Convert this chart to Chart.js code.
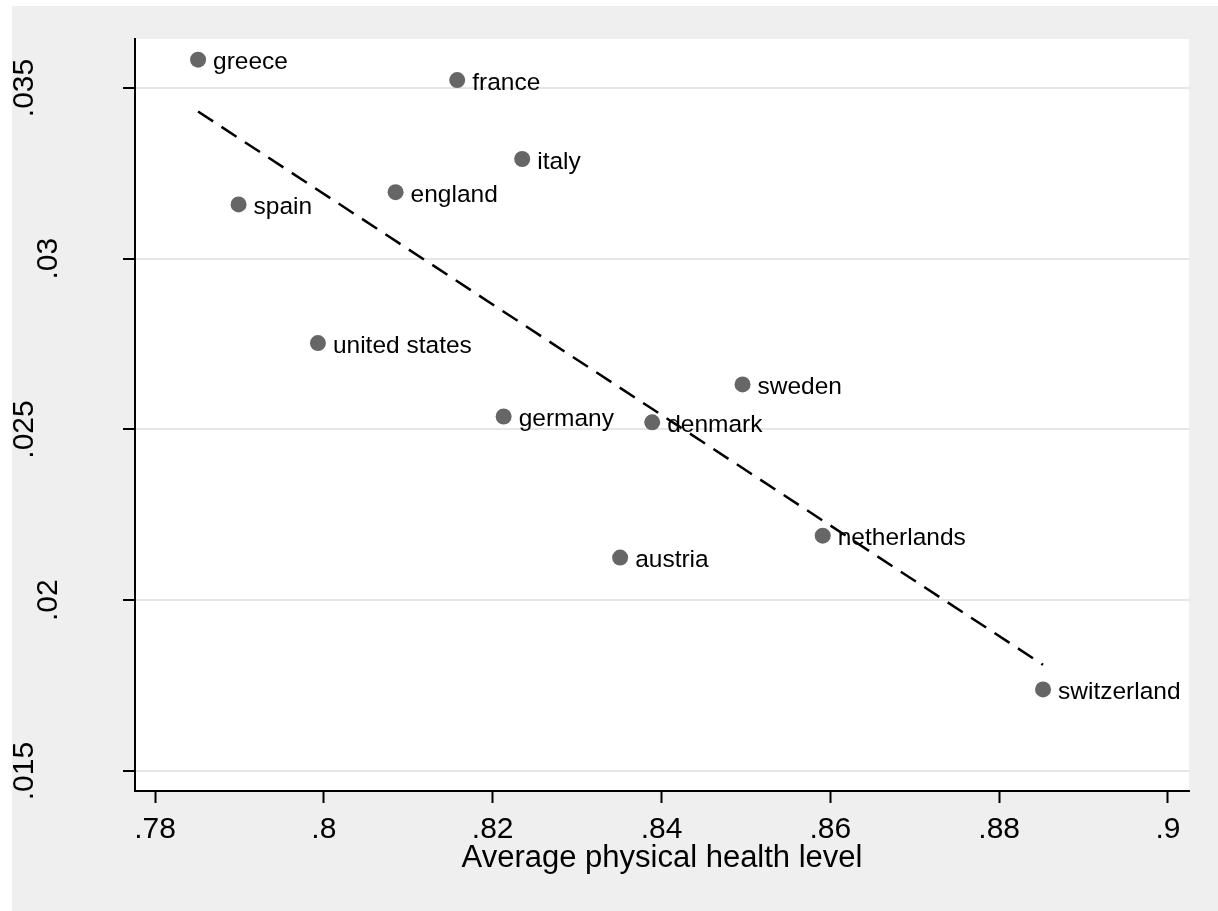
<!DOCTYPE html>
<html>
<head>
<meta charset="utf-8">
<script src="https://cdn.jsdelivr.net/npm/chart.js@4.4.1/dist/chart.umd.min.js"></script>
<style>
  html, body { margin: 0; padding: 0; background: #fff; }
  canvas { display: block; }
</style>
</head>
<body>
<canvas id="chart" width="1218" height="911"></canvas>
<script>
// Values
const countries = ['greece', 'france', 'italy', 'england', 'spain', 'united states',
                   'sweden', 'germany', 'denmark', 'netherlands', 'austria', 'switzerland'];
const healthLevel = [0.7851, 0.8158, 0.8235, 0.8085, 0.7899, 0.7993,
                     0.8496, 0.8213, 0.8389, 0.8591, 0.8351, 0.8852];
const outcome = [0.03583, 0.03523, 0.03292, 0.03195, 0.03159, 0.02753,
                 0.02632, 0.02538, 0.02521, 0.02189, 0.02125, 0.01739];

// Linear fit end points
const fitX = [0.7851, 0.8852];
const fitY = [0.03431, 0.01811];

// Axes
const xTicks = [0.78, 0.80, 0.82, 0.84, 0.86, 0.88, 0.90];
const xTickLabels = ['.78', '.8', '.82', '.84', '.86', '.88', '.9'];
const yTicks = [0.015, 0.020, 0.025, 0.030, 0.035];
const yTickLabels = ['.015', '.02', '.025', '.03', '.035'];
const xRange = [0.77763, 0.90249];
const yRange = [0.014415, 0.036434];
const xTitle = 'Average physical health level';

const FONT = '"Liberation Sans", Arial, Helvetica, sans-serif';

// Gray frame, white plot region, point labels and rotated y labels
const stataLook = {
    id: 'stataLook',
    beforeDraw(chart) {
        const { ctx, chartArea: a } = chart;
        ctx.save();
        ctx.fillStyle = '#efefef';
        ctx.fillRect(12, 6, chart.width - 12, chart.height - 6);
        ctx.fillStyle = '#ffffff';
        ctx.fillRect(a.left, a.top, a.right - a.left, a.bottom - a.top);
        ctx.restore();
    },
    afterDatasetDraw(chart, args) {
        if (args.index !== 0) return;
        const ctx = chart.ctx;
        ctx.save();
        ctx.font = '24.5px ' + FONT;
        ctx.fillStyle = '#000';
        ctx.textAlign = 'left';
        ctx.textBaseline = 'alphabetic';
        args.meta.data.forEach((pt, i) => {
            ctx.fillText(countries[i], pt.x + 15, pt.y + 9.5);
        });
        ctx.restore();
    },
    afterDraw(chart) {
        const ctx = chart.ctx;
        const yScale = chart.scales.y;
        ctx.save();
        ctx.beginPath();
        ctx.rect(12, 6, chart.width - 12, chart.height - 6);
        ctx.clip();
        ctx.font = '30px ' + FONT;
        ctx.fillStyle = '#000';
        ctx.textAlign = 'center';
        ctx.textBaseline = 'alphabetic';
        yScale.ticks.forEach((t, i) => {
            const label = yTickLabels[i];
            const w = ctx.measureText(label).width;
            ctx.save();
            ctx.translate(119 - 1.48 * w, yScale.getPixelForValue(t.value));
            ctx.rotate(-Math.PI / 2);
            ctx.fillText(label, 0, 0);
            ctx.restore();
        });
        ctx.restore();
    }
};

const ctx = document.getElementById('chart').getContext('2d');
new Chart(ctx, {
    type: 'scatter',
    data: {
        datasets: [{
            label: 'countries',
            data: healthLevel.map((x, i) => ({ x: x, y: outcome[i] })),
            backgroundColor: '#666666',
            borderWidth: 0,
            pointRadius: 8,
            order: 2
        }, {
            label: 'fit',
            data: fitX.map((x, i) => ({ x: x, y: fitY[i] })),
            showLine: true,
            borderColor: '#000',
            borderWidth: 2.5,
            borderDash: [18, 10],
            pointRadius: 0,
            order: 1
        }]
    },
    options: {
        responsive: false,
        animation: false,
        devicePixelRatio: 1,
        layout: { padding: { left: 0, top: 39, right: 29, bottom: 0 } },
        plugins: {
            legend: { display: false },
            tooltip: { enabled: false }
        },
        scales: {
            x: {
                type: 'linear',
                min: xRange[0],
                max: xRange[1],
                afterBuildTicks: s => { s.ticks = xTicks.map(v => ({ value: v })); },
                afterFit: s => { s.height = 120; },
                ticks: {
                    callback: (v, i) => xTickLabels[i],
                    color: '#000',
                    font: { family: FONT, size: 30 },
                    padding: 9,
                    maxRotation: 0,
                    autoSkip: false
                },
                grid: { drawOnChartArea: false, tickLength: 12, tickWidth: 2, tickColor: '#000' },
                border: { color: '#000', width: 2 },
                title: {
                    display: true,
                    text: xTitle,
                    color: '#000',
                    font: { family: FONT, size: 31 },
                    padding: { top: 0, bottom: 34 }
                }
            },
            y: {
                type: 'linear',
                min: yRange[0],
                max: yRange[1],
                afterBuildTicks: s => { s.ticks = yTicks.map(v => ({ value: v })); },
                afterFit: s => { s.width = 135; },
                ticks: { display: false },
                grid: { color: '#e6e6e6', lineWidth: 2, tickLength: 12, tickWidth: 2, tickColor: '#000' },
                border: { color: '#000', width: 2 }
            }
        }
    },
    plugins: [stataLook]
});
</script>
</body>
</html>
